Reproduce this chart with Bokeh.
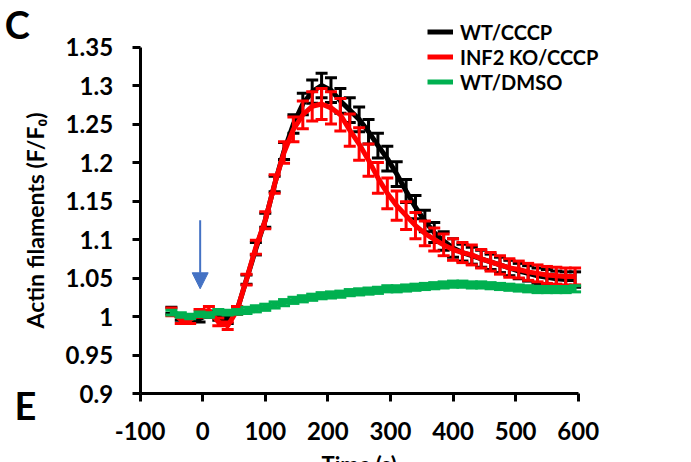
from bokeh.plotting import figure
from bokeh.models import Range1d, FixedTicker, Label, Arrow, NormalHead, Legend, LegendItem
from bokeh.embed import file_html
from bokeh.resources import INLINE

time_s = [-50, -35, -20, -5, 10, 25, 40, 55, 70, 85, 100, 115, 130, 145, 160, 175, 190, 205,
          220, 235, 250, 265, 280, 295, 310, 325, 340, 355, 370, 385, 400, 415, 430, 445,
          460, 475, 490, 505, 520, 535, 550, 565, 580, 595]

wt_cccp = [1.008, 0.999, 0.997, 0.997, 1.003, 0.999, 0.995, 1.008, 1.048, 1.088, 1.125, 1.172,
           1.215, 1.250, 1.276, 1.292, 1.300, 1.294, 1.280, 1.268, 1.256, 1.240, 1.222, 1.205,
           1.185, 1.163, 1.142, 1.124, 1.109, 1.098, 1.089, 1.083, 1.079, 1.075, 1.071, 1.067,
           1.063, 1.059, 1.056, 1.053, 1.051, 1.049, 1.048, 1.048]
wt_cccp_err = [0.004, 0.004, 0.004, 0.004, 0.004, 0.004, 0.004, 0.005, 0.006, 0.008, 0.009, 0.010,
               0.011, 0.012, 0.014, 0.015, 0.016, 0.016, 0.016, 0.016, 0.016, 0.016, 0.016, 0.016,
               0.016, 0.015, 0.015, 0.014, 0.013, 0.012, 0.012, 0.011, 0.011, 0.011, 0.010, 0.010,
               0.010, 0.010, 0.010, 0.010, 0.010, 0.010, 0.010, 0.010]

inf2_ko_cccp = [1.006, 0.996, 0.996, 1.004, 1.008, 0.993, 0.988, 1.008, 1.048, 1.090, 1.125, 1.172,
                1.213, 1.243, 1.262, 1.273, 1.276, 1.271, 1.262, 1.242, 1.224, 1.203, 1.180, 1.160,
                1.144, 1.131, 1.118, 1.108, 1.100, 1.093, 1.087, 1.083, 1.080, 1.075, 1.071, 1.067,
                1.063, 1.061, 1.058, 1.056, 1.054, 1.053, 1.052, 1.052]
inf2_ko_cccp_err = [0.005, 0.005, 0.005, 0.005, 0.005, 0.005, 0.005, 0.005, 0.007, 0.009, 0.011, 0.012,
                    0.014, 0.016, 0.018, 0.019, 0.020, 0.021, 0.021, 0.021, 0.021, 0.021, 0.020, 0.020,
                    0.019, 0.018, 0.017, 0.016, 0.015, 0.014, 0.014, 0.013, 0.013, 0.012, 0.012, 0.012,
                    0.012, 0.011, 0.011, 0.011, 0.011, 0.011, 0.011, 0.011]

wt_dmso = [1.005, 1.002, 1.000, 1.003, 1.002, 1.006, 1.005, 1.006, 1.008, 1.010, 1.012, 1.015,
           1.018, 1.021, 1.023, 1.025, 1.027, 1.028, 1.029, 1.031, 1.032, 1.033, 1.034, 1.036,
           1.036, 1.037, 1.038, 1.039, 1.040, 1.041, 1.042, 1.042, 1.041, 1.041, 1.040, 1.039,
           1.038, 1.037, 1.036, 1.035, 1.035, 1.035, 1.035, 1.036]
wt_dmso_err = [0.003, 0.003, 0.003, 0.003, 0.003, 0.003, 0.003, 0.003, 0.004, 0.004, 0.004, 0.004,
               0.004, 0.004, 0.004, 0.004, 0.004, 0.004, 0.004, 0.004, 0.004, 0.004, 0.004, 0.004,
               0.004, 0.004, 0.004, 0.004, 0.004, 0.004, 0.004, 0.004, 0.004, 0.004, 0.004, 0.004,
               0.004, 0.004, 0.004, 0.004, 0.004, 0.004, 0.004, 0.004]

series_names = ["WT/CCCP", "INF2 KO/CCCP", "WT/DMSO"]
series_colors = ["#000000", "#FF0000", "#00B050"]

x_ticks = [-100, 0, 100, 200, 300, 400, 500, 600]
x_tick_labels = ["-100", "0", "100", "200", "300", "400", "500", "600"]
y_ticks = [0.9, 0.95, 1.0, 1.05, 1.1, 1.15, 1.2, 1.25, 1.3, 1.35]
y_tick_labels = ["0.9", "0.95", "1", "1.05", "1.1", "1.15", "1.2", "1.25", "1.3", "1.35"]
x_axis_bounds = (-100, 600)
y_axis_bounds = (0.9, 1.35)

arrow_time = -4
arrow_top = 1.125
arrow_tip = 1.036

FONT = "Lato"

# The frame spans the whole canvas; the axes sit at fixed data locations inside it.
p = figure(width=691, height=462, output_backend="svg", toolbar_location=None,
           x_range=Range1d(-323.0, 781.0), y_range=Range1d(0.8104, 1.4104))
p.min_border = 0
p.outline_line_color = None
p.grid.visible = False
p.background_fill_color = "white"
p.border_fill_color = "white"

for ax in (p.xaxis[0], p.yaxis[0]):
    ax.axis_line_width = 3
    ax.axis_line_color = "black"
    ax.major_tick_line_width = 3
    ax.major_tick_line_color = "black"
    ax.major_tick_out = 8
    ax.major_tick_in = 0
    ax.minor_tick_line_color = None
    ax.major_label_text_font = FONT
    ax.major_label_text_font_style = "bold"
    ax.major_label_text_font_size = "24px"
    ax.major_label_text_color = "black"

p.xaxis.fixed_location = y_axis_bounds[0]
p.xaxis.bounds = x_axis_bounds
p.xaxis.ticker = FixedTicker(ticks=x_ticks)
p.xaxis.major_label_overrides = {t: s for t, s in zip(x_ticks, x_tick_labels)}
p.xaxis.major_label_standoff = 20

p.yaxis.fixed_location = x_axis_bounds[0]
p.yaxis.bounds = y_axis_bounds
p.yaxis.ticker = FixedTicker(ticks=y_ticks)
p.yaxis.major_label_overrides = {t: s for t, s in zip(y_ticks, y_tick_labels)}
p.yaxis.major_label_standoff = 19
p.yaxis.axis_label = "Actin filaments (F/F\u2080)"
p.yaxis.axis_label_text_font = FONT
p.yaxis.axis_label_text_font_style = "bold"
p.yaxis.axis_label_text_font_size = "23px"
p.yaxis.axis_label_text_color = "black"
p.yaxis.axis_label_standoff = 14

renderers = []
for vals, errs, color in [(wt_cccp, wt_cccp_err, series_colors[0]),
                          (inf2_ko_cccp, inf2_ko_cccp_err, series_colors[1]),
                          (wt_dmso, wt_dmso_err, series_colors[2])]:
    lo = [v - e for v, e in zip(vals, errs)]
    hi = [v + e for v, e in zip(vals, errs)]
    line = p.line(time_s, vals, line_color=color, line_width=5)
    p.segment(x0=time_s, y0=lo, x1=time_s, y1=hi, line_color=color, line_width=3)
    p.dash(x=time_s, y=lo, size=12, line_color=color, line_width=3)
    p.dash(x=time_s, y=hi, size=12, line_color=color, line_width=3)
    renderers.append(line)

p.add_layout(Arrow(end=NormalHead(size=16, fill_color="#4472C4", line_color="#4472C4"),
                   x_start=arrow_time, y_start=arrow_top, x_end=arrow_time, y_end=arrow_tip,
                   line_color="#4472C4", line_width=2))

legend = Legend(items=[LegendItem(label=n, renderers=[r]) for n, r in zip(series_names, renderers)],
                location=(427, 368), glyph_width=26, glyph_height=25, label_height=25,
                spacing=0, padding=0, margin=0, border_line_color=None, background_fill_alpha=0,
                label_text_font=FONT, label_text_font_style="bold", label_text_font_size="20px",
                label_text_color="black", label_standoff=7)
p.add_layout(legend)

p.add_layout(Label(x=-296, y=1.3805, text="C", text_font=FONT, text_font_style="bold",
                   text_font_size="38px", text_color="black",
                   text_align="center", text_baseline="middle"))
p.add_layout(Label(x=-283, y=0.8855, text="E", text_font=FONT, text_font_style="bold",
                   text_font_size="38px", text_color="black",
                   text_align="center", text_baseline="middle"))
p.add_layout(Label(x=250, y=0.8247, text="Time (s)", text_font=FONT, text_font_style="bold",
                   text_font_size="22px", text_color="black",
                   text_align="center", text_baseline="top"))

open("out.html", "w").write(file_html(p, INLINE))
